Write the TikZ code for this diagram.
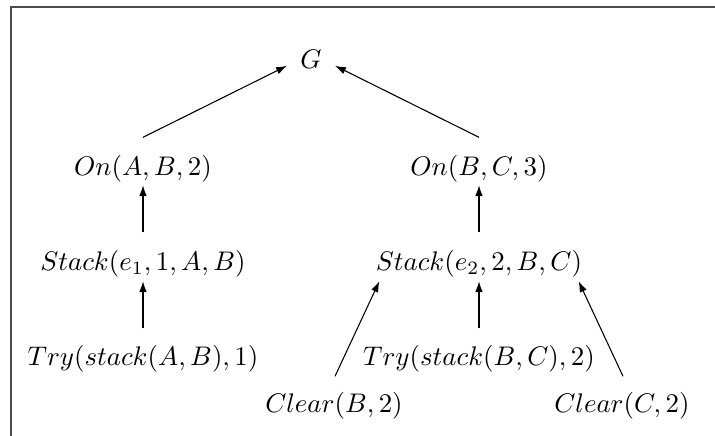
\documentclass[tikz,border=0pt]{standalone}
\usetikzlibrary{arrows.meta,calc}
\begin{document}
\begin{tikzpicture}[x=0.3717pt,y=-0.3717pt,
  lbl/.style={inner sep=0pt,anchor=base},
  arr/.style={-{Latex[length=4pt,width=2.8pt]}},
  frame/.style={line width=0.6pt,black!70}]
\useasboundingbox (0,0) rectangle (715,436);
\coordinate (fl) at (11,436);
\coordinate (fc) at (11,7);
\coordinate (fr) at (716,7);
\draw[frame] (fl) -- (fc) -- (fr);
\node[lbl] (g)  at (311,68)  {$G$};
\node[lbl] (a)  at (143,175) {$On(A,B,2)$};
\node[lbl] (b)  at (479,175) {$On(B,C,3)$};
\node[lbl] (s1) at (143,270) {$Stack(e_1,1,A,B)$};
\node[lbl] (s2) at (479,270) {$Stack(e_2,2,B,C)$};
\node[lbl] (t1) at (143,365) {$Try(stack(A,B),1)$};
\node[lbl] (t2) at (479,365) {$Try(stack(B,C),2)$};
\node[lbl] (cb) at (334,412) {$Clear(B,2)$};
\node[lbl] (cc) at (622,412) {$Clear(C,2)$};
\draw[arr] ($(a.north)+(0,-17)$) -- ($(g.west)+(-13,7)$);
\draw[arr] ($(b.north)+(0,-17)$) -- ($(g.east)+(13,7)$);
\draw[arr] ($(s1.north)+(0,-17)$) -- ($(a.south)+(0,3)$);
\draw[arr] ($(s2.north)+(0,-17)$) -- ($(b.south)+(0,3)$);
\draw[arr] ($(t1.north)+(0,-16)$) -- ($(s1.south)+(0,4)$);
\draw[arr] ($(t2.north)+(0,-16)$) -- ($(s2.south)+(0,4)$);
\draw[arr] ($(cb.north)+(1,-15)$) -- ($(s2.south west)+(4,4)$);
\draw[arr] ($(cc.north)+(1,-15)$) -- ($(s2.south east)+(-4,4)$);
\end{tikzpicture}
\end{document}
